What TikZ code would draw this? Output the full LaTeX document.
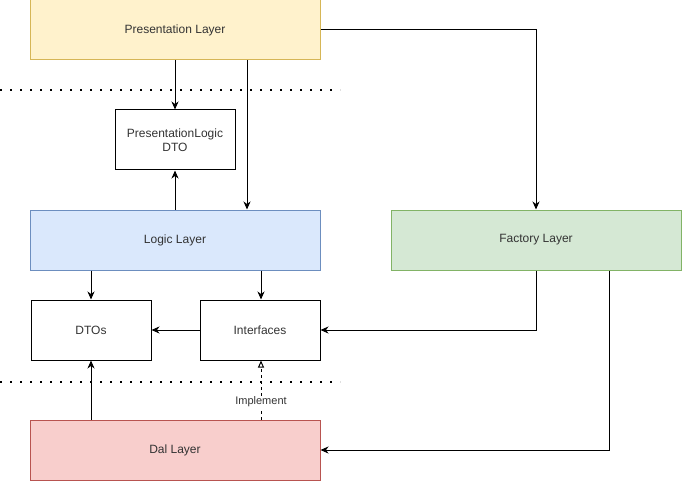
\documentclass[tikz,border=0pt]{standalone}
\usepackage{fontspec}
\setmainfont{Liberation Sans}
\usetikzlibrary{arrows.meta}
\definecolor{presfill}{HTML}{FFF2CC}\definecolor{presline}{HTML}{D6B656}
\definecolor{logicfill}{HTML}{DAE8FC}\definecolor{logicline}{HTML}{6C8EBF}
\definecolor{factfill}{HTML}{D5E8D4}\definecolor{factline}{HTML}{82B366}
\definecolor{dalfill}{HTML}{F8CECC}\definecolor{dalline}{HTML}{B85450}
\definecolor{txt}{HTML}{333333}
\begin{document}
\begin{tikzpicture}[x=1pt, y=-1pt, line width=1pt,
    font=\fontsize{12}{14}\selectfont, text=txt,
    layer/.style={draw, minimum width=290pt, minimum height=60pt, inner sep=0pt},
    box/.style={draw, minimum width=120pt, minimum height=60pt, inner sep=0pt, align=center},
    arr/.style={-{Stealth[length=8pt,width=7pt,inset=2.5pt]}},
    dotline/.style={line width=2pt, dash pattern=on 2pt off 8pt}]
  \useasboundingbox (0,0) rectangle (682,481);
  \node (pres) at (175,30) [layer, fill=presfill, draw=presline] {Presentation Layer};
    \node (pldto) at (175,140) [box] {PresentationLogic\\DTO};
    \node (logic) at (175,240) [layer, fill=logicfill, draw=logicline] {Logic Layer};
    \node (fact) at (536,240) [layer, fill=factfill, draw=factline] {Factory Layer};
    \node (dtos) at (91,330) [box] {DTOs}; \node (iface) at (260,330) [box] {Interfaces};
    \node (dal) at (175,450) [layer, fill=dalfill, draw=dalline] {Dal Layer};
    \draw[dotline] (0,90) -- (340,90); \draw[dotline] (0,382) -- (340,382);
    \draw[arr] (pres.south) -- (pldto.north); \draw[arr]
    ([xshift=72pt]pres.south) -- ([xshift=72pt]logic.north); \draw[arr] (logic.north) -- (pldto.south);
    \draw[arr] (pres.east) -| (fact.north);
    \draw[arr] ([xshift=-84pt]logic.south) -- (dtos.north); \draw[arr] ([xshift=86pt]logic.south) -- ([xshift=1pt]iface.north);
    \draw[arr] (iface.west) -- (dtos.east); \draw[arr] (fact.south) |- (iface.east);
    \draw[arr] ([xshift=73pt]fact.south) |- (dal.east);
    \draw[arr] ([xshift=-84pt]dal.north) -- (dtos.south);
    \draw[dashed, -{Triangle[open,length=7pt,width=6pt]}] ([xshift=86pt]dal.north) -- node[pos=0.3, fill=white, inner sep=1pt, font=\fontsize{11}{13}\selectfont] {Implement} ([xshift=1pt]iface.south);
\end{tikzpicture}
\end{document}
